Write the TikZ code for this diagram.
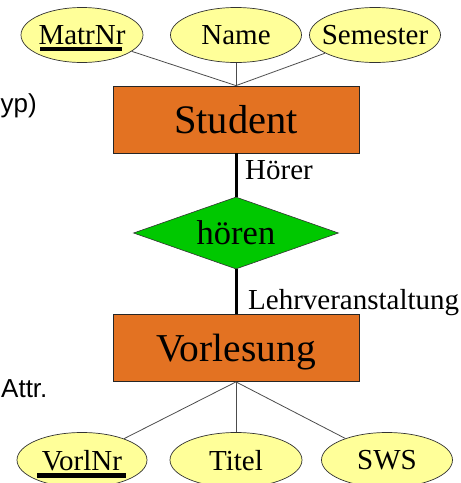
\documentclass[tikz,border=0pt]{standalone}
\usepackage{fontspec}
\setmainfont{Liberation Serif}
\newfontfamily\arialfont{Liberation Sans}
\usetikzlibrary{shapes.geometric}
\definecolor{attrfill}{HTML}{FFFF99}
\definecolor{entfill}{HTML}{E37222}
\definecolor{relfill}{HTML}{00C800}
\begin{document}
\begin{tikzpicture}[x=1pt,y=-1pt,
  attr/.style={ellipse, draw=black!80, line width=0.7pt, fill=attrfill,
    minimum width=128pt, minimum height=55pt, inner sep=0pt},
  attrtext/.style={font=\fontsize{29}{31}\selectfont, inner sep=0pt, text depth=0pt},
  entity/.style={rectangle, draw=black!85, line width=0.8pt, fill=entfill,
    minimum width=246pt, minimum height=67pt, inner sep=0pt, text depth=0pt},
  rel/.style={diamond, draw=black!80, line width=0.6pt, fill=relfill,
    minimum width=205pt, minimum height=72pt, aspect=2.8, inner sep=0pt,
    font=\fontsize{34.5}{36}\selectfont, text depth=0pt},
  attrline/.style={draw=black!70, line width=0.8pt},
  relline/.style={draw=black, line width=3pt},
  rolelabel/.style={font=\fontsize{29}{31}\selectfont, inner sep=0pt, anchor=base west},
  sidetext/.style={font=\arialfont\fontsize{26}{28}\selectfont, inner sep=0pt},
  keybar/.style={fill=black}]
\useasboundingbox (0,0) rectangle (461,483);

% entities
\node[entity, font=\fontsize{40.5}{42}\selectfont] (student) at (236,119.5) {Student};
\node[entity, font=\fontsize{39.5}{41}\selectfont] (vorl) at (236,348) {Vorlesung};

% relationship
\node[rel] (hoeren) at (236,233) {hören};

% attributes top
\node[attr, minimum width=122pt] (matr) at (82,35) {};
\node[attrtext] (matrt) at (matr.center) {MatrNr};
\node[attr, minimum width=131pt] (name) at (236,35) {};
\node[attrtext] (namet) at (name.center) {Name};
\node[attr, minimum width=131pt] (sem) at (375,35) {};
\node[attrtext] (semt) at (sem.center) {Semester};

% attributes bottom
\node[attr, minimum width=130pt] (vnr) at (82,460) {};
\node[attrtext] (vnrt) at (vnr.center) {VorlNr};
\node[attr, minimum width=132pt] (titel) at (236,460) {};
\node[attrtext] (titelt) at (titel.center) {Titel};
\node[attr, minimum width=131pt] (sws) at (387,460) {};
\node[attrtext] (swst) at (sws.center) {SWS};

% key underlines
\fill[keybar] ([xshift=-42pt,yshift=-2.5pt]matrt.south) rectangle ([xshift=40pt,yshift=-6.5pt]matrt.south);
\fill[keybar] ([xshift=-45pt,yshift=-3pt]vnrt.south) rectangle ([xshift=44pt,yshift=-8pt]vnrt.south);

% attribute lines
\draw[attrline] (matr) -- (student.north);
\draw[attrline] (name) -- (student.north);
\draw[attrline] (sem) -- (student.north);
\draw[attrline] (vnr) -- (vorl.south);
\draw[attrline] (titel) -- (vorl.south);
\draw[attrline] (sws) -- (vorl.south);

% relationship lines
\draw[relline] (student.south) -- (hoeren.north);
\draw[relline] (hoeren.south) -- (vorl.north);

% role labels
\node[rolelabel] (hoerer) at (245,179) {Hörer};
\node[rolelabel] (lehrv) at (248,309) {Lehrveranstaltung};

% side text fragments
\node[sidetext, anchor=base west] (typ) at (0.5,112) {yp)};
\node[sidetext, anchor=base west] (attrx) at (1,397) {Attr.};
\end{tikzpicture}
\end{document}
